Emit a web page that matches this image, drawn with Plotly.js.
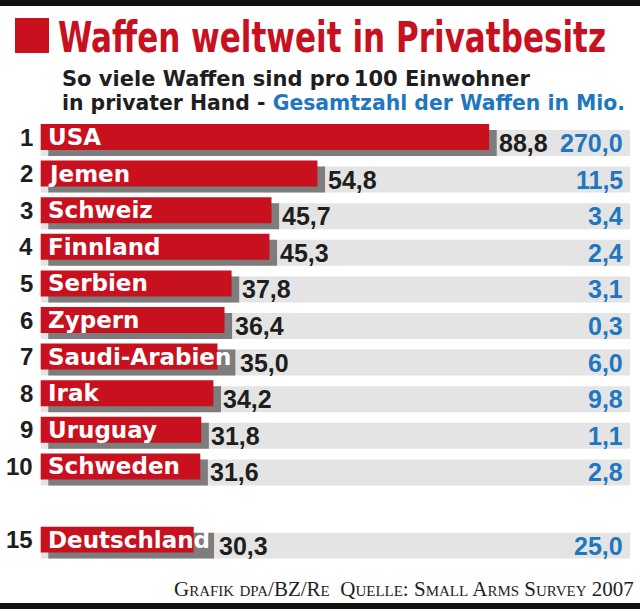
<!DOCTYPE html>
<html>
<head>
<meta charset="utf-8">
<script src="https://cdn.plot.ly/plotly-3.0.1.min.js"></script>
<style>html,body{margin:0;padding:0;background:#fff;}#chart{width:640px;height:613px;}</style>
</head>
<body>
<div id="chart"></div>
<script>
// ---- data ----
const countries = ['USA','Jemen','Schweiz','Finnland','Serbien','Zypern','Saudi-Arabien','Irak','Uruguay','Schweden','Deutschland'];
const ranks = ['1','2','3','4','5','6','7','8','9','10','15'];
const perHundred = [88.8,54.8,45.7,45.3,37.8,36.4,35.0,34.2,31.8,31.6,30.3];
const totalMio = [270.0,11.5,3.4,2.4,3.1,0.3,6.0,9.8,1.1,2.8,25.0];
const rowPos = [0,1,2,3,4,5,6,7,8,9,11];

const titleText = 'Waffen weltweit in Privatbesitz';
const subLine1 = 'So viele Waffen sind pro\u2009100 Einwohner';
const subLine2a = 'in privater Hand - ';
const subLine2b = 'Gesamtzahl der Waffen in Mio.';
const footerText = 'Grafik dpa/BZ/Re\u2002Quelle: Small Arms Survey 2007';

// ---- style ----
const RED = '#c8101e';
const SHADOW = '#7d7d7d';
const BAND = '#e4e4e4';
const BLUE = '#1f77c0';
const DARK = '#1e1e1e';
const W = 640, H = 613, PLOTW = 631;
const xMin = -8.06, xMax = 116.89;
const bandEnd = 116.7;
const barW = 0.71, shadowDy = 0.164, shadowDx = 1.5;
const valueGap = 1.6;
const unitsPerPx = (xMax - xMin) / PLOTW;

const fmt = v => v.toFixed(1).replace('.', ',');
const px = x => x / W, py = y => 1 - y / H;

const band = {
  type: 'bar', orientation: 'h', y: rowPos, x: rowPos.map(() => bandEnd), base: 0,
  width: barW, offset: -barW/2 + shadowDy, marker: {color: BAND, line: {width: 0}},
  hoverinfo: 'skip'
};
const shadow = {
  type: 'bar', orientation: 'h', y: rowPos, x: perHundred.slice(), base: shadowDx,
  width: barW, offset: -barW/2 + shadowDy, marker: {color: SHADOW, line: {width: 0}},
  hoverinfo: 'skip'
};
const red = {
  type: 'bar', orientation: 'h', y: rowPos, x: perHundred, base: 0,
  width: barW, offset: -barW/2, marker: {color: RED, line: {width: 0}},
  hoverinfo: 'skip'
};

const ann = [];
rowPos.forEach((r, i) => {
  ann.push({xref: 'x', yref: 'y', x: -1.1, y: r, text: ranks[i], showarrow: false,
    xanchor: 'right', yanchor: 'middle',
    font: {family: 'Liberation Sans, Arial, sans-serif', size: 24, weight: 700, color: DARK}});
  ann.push({xref: 'x', yref: 'y', x: 1.05, y: r, text: countries[i], showarrow: false,
    xanchor: 'left', yanchor: 'middle',
    font: {family: 'DejaVu Sans, sans-serif', size: 23, weight: 700, color: '#ffffff'}});
  ann.push({xref: 'x', yref: 'y', x: perHundred[i] + valueGap, y: r + shadowDy, text: fmt(perHundred[i]), showarrow: false,
    xanchor: 'left', yanchor: 'middle',
    font: {family: 'Liberation Sans, Arial, sans-serif', size: 25, weight: 700, color: DARK}});
  ann.push({xref: 'x', yref: 'y', x: 115.7, y: r + shadowDy, text: fmt(totalMio[i]), showarrow: false,
    xanchor: 'right', yanchor: 'middle',
    font: {family: 'Liberation Sans, Arial, sans-serif', size: 25, weight: 700, color: BLUE}});
});

// titles
const titleIdx = ann.length;
ann.push({xref: 'paper', yref: 'paper', x: px(56), y: py(64), text: titleText, showarrow: false,
  xanchor: 'left', yanchor: 'bottom', align: 'left',
  font: {family: 'DejaVu Sans Condensed, DejaVu Sans, sans-serif', size: 35, weight: 700, color: RED}});
ann.push({xref: 'paper', yref: 'paper', x: px(60), y: py(93.5), text: subLine1, showarrow: false,
  xanchor: 'left', yanchor: 'bottom',
  font: {family: 'DejaVu Sans, sans-serif', size: 21, weight: 700, color: DARK}});
ann.push({xref: 'paper', yref: 'paper', x: px(60), y: py(117.5), text: subLine2a + '<span style="color:' + BLUE + '">' + subLine2b + '</span>', showarrow: false,
  xanchor: 'left', yanchor: 'bottom',
  font: {family: 'DejaVu Sans, sans-serif', size: 20.4, weight: 700, color: DARK}});
ann.push({xref: 'paper', yref: 'paper', x: px(636), y: py(603), text: footerText, showarrow: false,
  xanchor: 'right', yanchor: 'bottom',
  font: {family: 'Liberation Serif, DejaVu Serif, serif', size: 21, variant: 'small-caps', color: DARK}});

const shapes = [
  {type: 'rect', xref: 'paper', yref: 'paper', x0: 0, x1: 1, y0: py(6), y1: py(0), fillcolor: '#111', line: {width: 0}},
  {type: 'rect', xref: 'paper', yref: 'paper', x0: 0, x1: 1, y0: py(609), y1: py(603), fillcolor: '#111', line: {width: 0}},
  {type: 'rect', xref: 'paper', yref: 'paper', x0: px(15), x1: px(49), y0: py(53), y1: py(18), fillcolor: RED, line: {width: 0}}
];

const layout = {
  width: W, height: H,
  margin: {l: 0, r: 0, t: 0, b: 0},
  paper_bgcolor: '#fff', plot_bgcolor: 'rgba(0,0,0,0)',
  showlegend: false, barmode: 'overlay',
  xaxis: {domain: [0, PLOTW/W], range: [xMin, xMax], visible: false, fixedrange: true},
  yaxis: {domain: [40/613, 513/613], range: [11.912, -1.011], visible: false, fixedrange: true},
  annotations: ann, shapes: shapes
};

function annText(k) {
  return document.querySelector('.annotation[data-index="' + k + '"] text.annotation-text');
}
function shapeTitle() {
  // the headline face is a tall condensed bold: stretch the text vertically, fit its width
  const t = annText(titleIdx);
  if (t) {
    t.setAttribute('textLength', '548');
    t.setAttribute('lengthAdjust', 'spacingAndGlyphs');
    t.style.transformBox = 'fill-box';
    t.style.transformOrigin = 'left bottom';
    t.style.transform = 'scaleY(1.24)';
  }
}

Plotly.newPlot('chart', [band, shadow, red], layout, {displayModeBar: false, staticPlot: true}).then(gd => {
  // where a white country name runs past its red bar, stretch the grey shadow under it
  const newShadow = [];
  const rel = {};
  rowPos.forEach((r, i) => {
    const t = annText(i * 4 + 1);
    const right = t ? t.getBoundingClientRect().right : 0;
    const labelEnd = xMin + (right + 4) * unitsPerPx;
    const sEnd = Math.max(perHundred[i] + shadowDx, labelEnd);
    newShadow.push(sEnd - shadowDx);
    if (sEnd > perHundred[i] + shadowDx + 0.01) {
      rel['annotations[' + (i * 4 + 2) + '].x'] = sEnd + valueGap - shadowDx + 0.5;
    }
  });
  return Plotly.update(gd, {x: [newShadow]}, rel, [1]);
}).then(shapeTitle);
</script>
</body>
</html>
